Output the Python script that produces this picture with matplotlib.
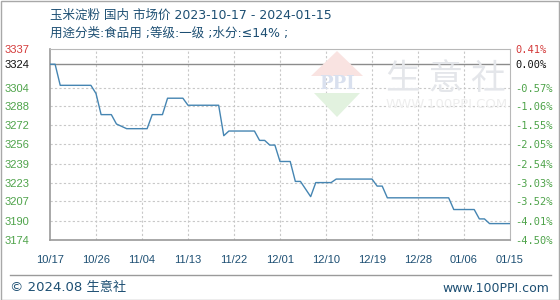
import numpy as np
import pandas as pd
import matplotlib
matplotlib.use("Agg")
import matplotlib.pyplot as plt
from matplotlib.patches import Rectangle, Polygon

# ---------------- data ----------------
start_date = "2023-10-17"
end_date = "2024-01-15"
prices = [
    3324, 3324, 3306, 3306, 3306, 3306, 3306, 3306, 3306, 3299,   # d0-d9
    3281, 3281, 3281, 3273, 3271, 3269, 3269, 3269, 3269, 3269,   # d10-d19
    3281, 3281, 3281, 3295, 3295, 3295, 3295, 3289, 3289, 3289,   # d20-d29
    3289, 3289, 3289, 3289, 3263, 3267, 3267, 3267, 3267, 3267,   # d30-d39
    3267, 3259, 3259, 3255, 3255, 3241, 3241, 3241, 3224, 3224,   # d40-d49
    np.nan, 3211, 3223, 3223, 3223, 3223, 3226, 3226, 3226, 3226, # d50-d59
    3226, 3226, 3226, 3226, 3220, 3220, 3210, 3210, 3210, 3210,   # d60-d69
    3210, 3210, 3210, 3210, 3210, 3210, 3210, 3210, 3210, 3200,   # d70-d79
    3200, 3200, 3200, 3200, 3192, 3192, 3188, 3188, 3188, 3188,   # d80-d89
    3188,                                                          # d90
]
y_ticks = [3337, 3324, 3304, 3288, 3272, 3256, 3239, 3223, 3207, 3190, 3174]
y_labels_left = ["3337", "3324", "3304", "3288", "3272", "3256", "3239",
                 "3223", "3207", "3190", "3174"]
y_labels_right = ["0.41%", "0.00%", "-0.57%", "-1.06%", "-1.55%", "-2.05%",
                  "-2.54%", "-3.03%", "-3.52%", "-4.01%", "-4.50%"]
x_tick_labels = ["10/17", "10/26", "11/04", "11/13", "11/22", "12/01",
                 "12/10", "12/19", "12/28", "01/06", "01/15"]
title1 = "玉米淀粉 国内 市场价 2023-10-17 - 2024-01-15"
title2 = "用途分类:食品用 ;等级:一级 ;水分:≤14% ;"
footer_left = "© 2024.08 生意社"
footer_right = "www.100PPI.com"

# ---------------- figure ----------------
W, H = 560, 300
fig = plt.figure(figsize=(W / 100, H / 100), dpi=100)
fig.patch.set_facecolor("white")
MIX = ["DejaVu Sans", "Noto Sans CJK SC"]
CJK = ["Noto Sans CJK SC", "DejaVu Sans"]
TXT = "#1d4f73"
RED, BLACK, GREEN = "#d43a3a", "#111111", "#4ea34a"

def fx(px):
    return px / W

def fy(py):
    return 1 - py / H

dates = pd.date_range(start_date, end_date, freq="D")
s = pd.Series(prices, index=dates).dropna()

ax_l, ax_r, ax_t, ax_b = 50, 510, 49, 240
ax = fig.add_axes([fx(ax_l), fy(ax_b), fx(ax_r - ax_l), (ax_b - ax_t) / H])
ax.set_facecolor("none")

# watermark (behind the line)
fig.patches.append(Polygon([[fx(311), fy(76)], [fx(337), fy(51)], [fx(363), fy(76)]],
                           closed=True, transform=fig.transFigure,
                           facecolor="#f9e3e1", edgecolor="none", zorder=0))
fig.patches.append(Polygon([[fx(314), fy(93)], [fx(337), fy(117)], [fx(360), fy(93)]],
                           closed=True, transform=fig.transFigure,
                           facecolor="#e2f2df", edgecolor="none", zorder=0))
fig.text(fx(337), fy(84), "PPI", ha="center", va="center", fontsize=13,
         fontweight="bold", color="#d9e0ee", family="DejaVu Serif", zorder=0)
fig.text(fx(446), fy(80), "生 意 社", ha="center", va="center", fontsize=25,
         color="#e4e6ea", family=CJK, zorder=0)
fig.text(fx(447), fy(104), "WWW.100PPI.COM", ha="center", va="center",
         fontsize=9.5, color="#eeeeee", family="DejaVu Sans", zorder=0)

# line
ax.plot(s.index, s.values, color="#4585b2", lw=1.0, zorder=3)

x0 = pd.Timestamp(start_date)
x1 = pd.Timestamp(end_date)
ax.set_xlim(x0, x1)
ax.set_ylim(y_ticks[-1], y_ticks[0])

tick_dates = pd.date_range(start_date, end_date, freq="9D")
ax.set_xticks(tick_dates)
ax.set_xticklabels(x_tick_labels)
ax.set_yticks(y_ticks)
ax.set_yticklabels(y_labels_left)

# grid
for yv in y_ticks[2:-1]:
    ax.axhline(yv, color="#c8c8c8", lw=0.8, ls=(0, (2, 2)), zorder=1)
ax.axhline(y_ticks[1], color="#8c8c8c", lw=1.0, zorder=2)
for xd in tick_dates[1:-1]:
    ax.axvline(xd, color="#c8c8c8", lw=0.8, ls=(0, (2, 2)), zorder=1)

for side in ["left", "bottom"]:
    ax.spines[side].set_color("#9a9a9a")
    ax.spines[side].set_linewidth(1.2)
for side in ["top", "right"]:
    ax.spines[side].set_color("#b8b8b8")
    ax.spines[side].set_linewidth(0.8)

ax.tick_params(axis="both", length=0)
ax.tick_params(axis="y", pad=0)
ax.tick_params(axis="x", pad=11)
ylbls = ax.get_yticklabels()
for i, lbl in enumerate(ylbls):
    lbl.set_fontsize(8)
    lbl.set_family("Liberation Sans")
    lbl.set_horizontalalignment("left")
    lbl.set_x(-45 / (ax_r - ax_l))
    lbl.set_color(RED if i == 0 else (BLACK if i == 1 else GREEN))
for lbl in ax.get_xticklabels():
    lbl.set_fontsize(8)
    lbl.set_family("Liberation Sans")
    lbl.set_color(TXT)

# right axis with percent labels
ax2 = ax.twinx()
ax2.set_ylim(ax.get_ylim())
ax2.set_yticks(y_ticks)
ax2.set_yticklabels(y_labels_right)
ax2.tick_params(axis="y", length=0, pad=4)
for spine in ax2.spines.values():
    spine.set_visible(False)
for i, lbl in enumerate(ax2.get_yticklabels()):
    lbl.set_fontsize(7.5)
    lbl.set_family("DejaVu Sans Mono")
    lbl.set_color(RED if i == 0 else (BLACK if i == 1 else GREEN))

# titles
fig.text(fx(50), fy(15), title1, ha="left", va="center", fontsize=9,
         color=TXT, family=MIX)
fig.text(fx(50), fy(33), title2, ha="left", va="center", fontsize=9,
         color=TXT, family=MIX)

# footer
fig.add_artist(plt.Line2D([fx(10), fx(551)], [fy(275), fy(275)],
                          transform=fig.transFigure, color="#9a9a9a", lw=1.0))
fig.text(fx(10), fy(288), footer_left, ha="left", va="center", fontsize=9.5,
         color=TXT, family=MIX)
fig.text(fx(549), fy(288), footer_right, ha="right", va="center", fontsize=9,
         color=TXT, family="DejaVu Sans")

# outer frame
fig.patches.append(Rectangle((0.5 / W, 0.5 / H), 1 - 1.5 / W, 1 - 1.5 / H,
                             transform=fig.transFigure, fill=False,
                             edgecolor="#a8a8a8", lw=1.0, zorder=0))

fig.savefig("out.png", dpi=100, facecolor="white")
